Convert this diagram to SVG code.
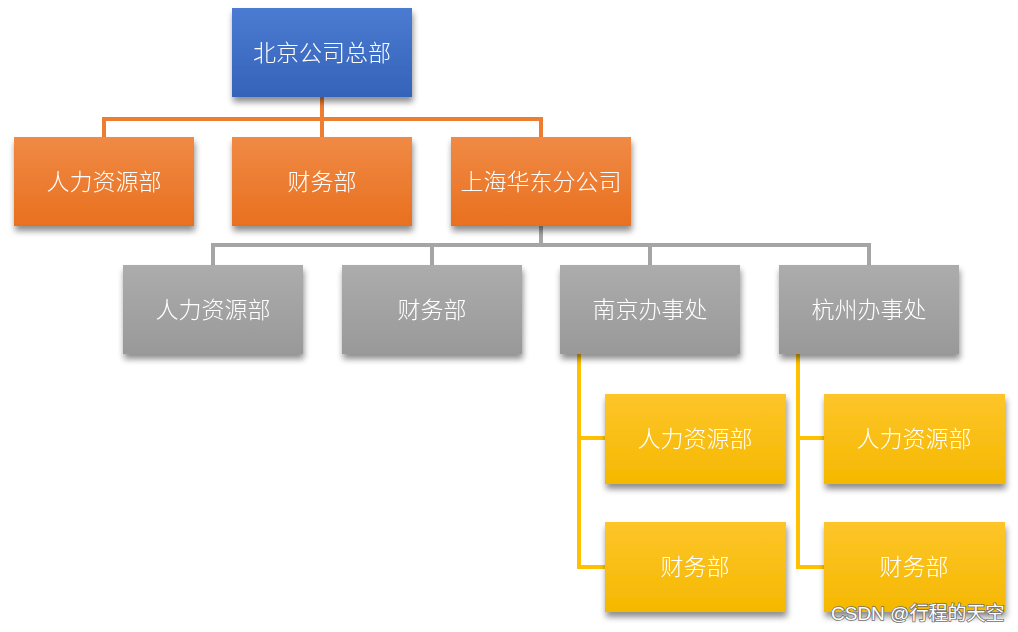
<svg xmlns="http://www.w3.org/2000/svg" width="1018" height="632" viewBox="0 0 1018 632">
<style>
.t{font-family:"Noto Sans CJK SC","Noto Sans",sans-serif;font-size:23px;font-weight:300;fill:#ffffff;text-anchor:middle;dominant-baseline:central}
.c{fill:none;stroke-width:4}
.wm{font-family:"Liberation Sans","Noto Sans CJK SC",sans-serif;font-size:19px;fill:#ffffff;stroke:#707070;stroke-width:1.6;paint-order:stroke}
</style>
<defs>
<filter id="sh" x="-10%" y="-10%" width="125%" height="135%">
<feGaussianBlur in="SourceAlpha" stdDeviation="3"/>
<feOffset dx="1" dy="5" result="b"/>
<feComponentTransfer><feFuncA type="linear" slope="0.45"/></feComponentTransfer>
<feMerge><feMergeNode/><feMergeNode in="SourceGraphic"/></feMerge>
</filter>
<linearGradient id="gb" x1="0" y1="0" x2="0" y2="1"><stop offset="0" stop-color="#4b7bd2"/><stop offset="1" stop-color="#3563b8"/></linearGradient>
<linearGradient id="go" x1="0" y1="0" x2="0" y2="1"><stop offset="0" stop-color="#f08a45"/><stop offset="1" stop-color="#e8701f"/></linearGradient>
<linearGradient id="gg" x1="0" y1="0" x2="0" y2="1"><stop offset="0" stop-color="#acacac"/><stop offset="1" stop-color="#999999"/></linearGradient>
<linearGradient id="gy" x1="0" y1="0" x2="0" y2="1"><stop offset="0" stop-color="#fdc52a"/><stop offset="1" stop-color="#f5b800"/></linearGradient>
</defs>
<rect width="1018" height="632" fill="#ffffff"/>
<g id="connectors">
<path class="c" stroke="#ed7d31" d="M322 97V119M104 137V119H541V137M322 119V137"/>
<path class="c" stroke="#a5a5a5" d="M541 226V245M213 265V245H869V265M432 245V265M650 245V265"/>
<path class="c" stroke="#ffc000" d="M579 354V567H605M579 438H605"/>
<path class="c" stroke="#ffc000" d="M798 354V567H824M798 438H824"/>
</g>
<g id="n_hq" filter="url(#sh)"><rect x="232" y="8" width="180" height="89" fill="url(#gb)"/><text class="t" x="322" y="51">北京公司总部</text></g>
<g id="n_hr1" filter="url(#sh)"><rect x="14" y="137" width="180" height="89" fill="url(#go)"/><text class="t" x="104" y="180">人力资源部</text></g>
<g id="n_fin1" filter="url(#sh)"><rect x="232" y="137" width="180" height="89" fill="url(#go)"/><text class="t" x="322" y="180">财务部</text></g>
<g id="n_sh" filter="url(#sh)"><rect x="451" y="137" width="180" height="89" fill="url(#go)"/><text class="t" x="541" y="180">上海华东分公司</text></g>
<g id="n_hr2" filter="url(#sh)"><rect x="123" y="265" width="180" height="89" fill="url(#gg)"/><text class="t" x="213" y="308">人力资源部</text></g>
<g id="n_fin2" filter="url(#sh)"><rect x="342" y="265" width="180" height="89" fill="url(#gg)"/><text class="t" x="432" y="308">财务部</text></g>
<g id="n_nj" filter="url(#sh)"><rect x="560" y="265" width="180" height="89" fill="url(#gg)"/><text class="t" x="650" y="308">南京办事处</text></g>
<g id="n_hz" filter="url(#sh)"><rect x="779" y="265" width="180" height="89" fill="url(#gg)"/><text class="t" x="869" y="308">杭州办事处</text></g>
<g id="n_nj_hr" filter="url(#sh)"><rect x="605" y="394" width="181" height="90" fill="url(#gy)"/><text class="t" x="695" y="437">人力资源部</text></g>
<g id="n_nj_fin" filter="url(#sh)"><rect x="605" y="522" width="181" height="90" fill="url(#gy)"/><text class="t" x="695" y="565">财务部</text></g>
<g id="n_hz_hr" filter="url(#sh)"><rect x="824" y="394" width="181" height="90" fill="url(#gy)"/><text class="t" x="914" y="437">人力资源部</text></g>
<g id="n_hz_fin" filter="url(#sh)"><rect x="824" y="522" width="181" height="90" fill="url(#gy)"/><text class="t" x="914" y="565">财务部</text></g>
<text class="wm" x="831" y="620">CSDN @行程的天空</text>
</svg>
